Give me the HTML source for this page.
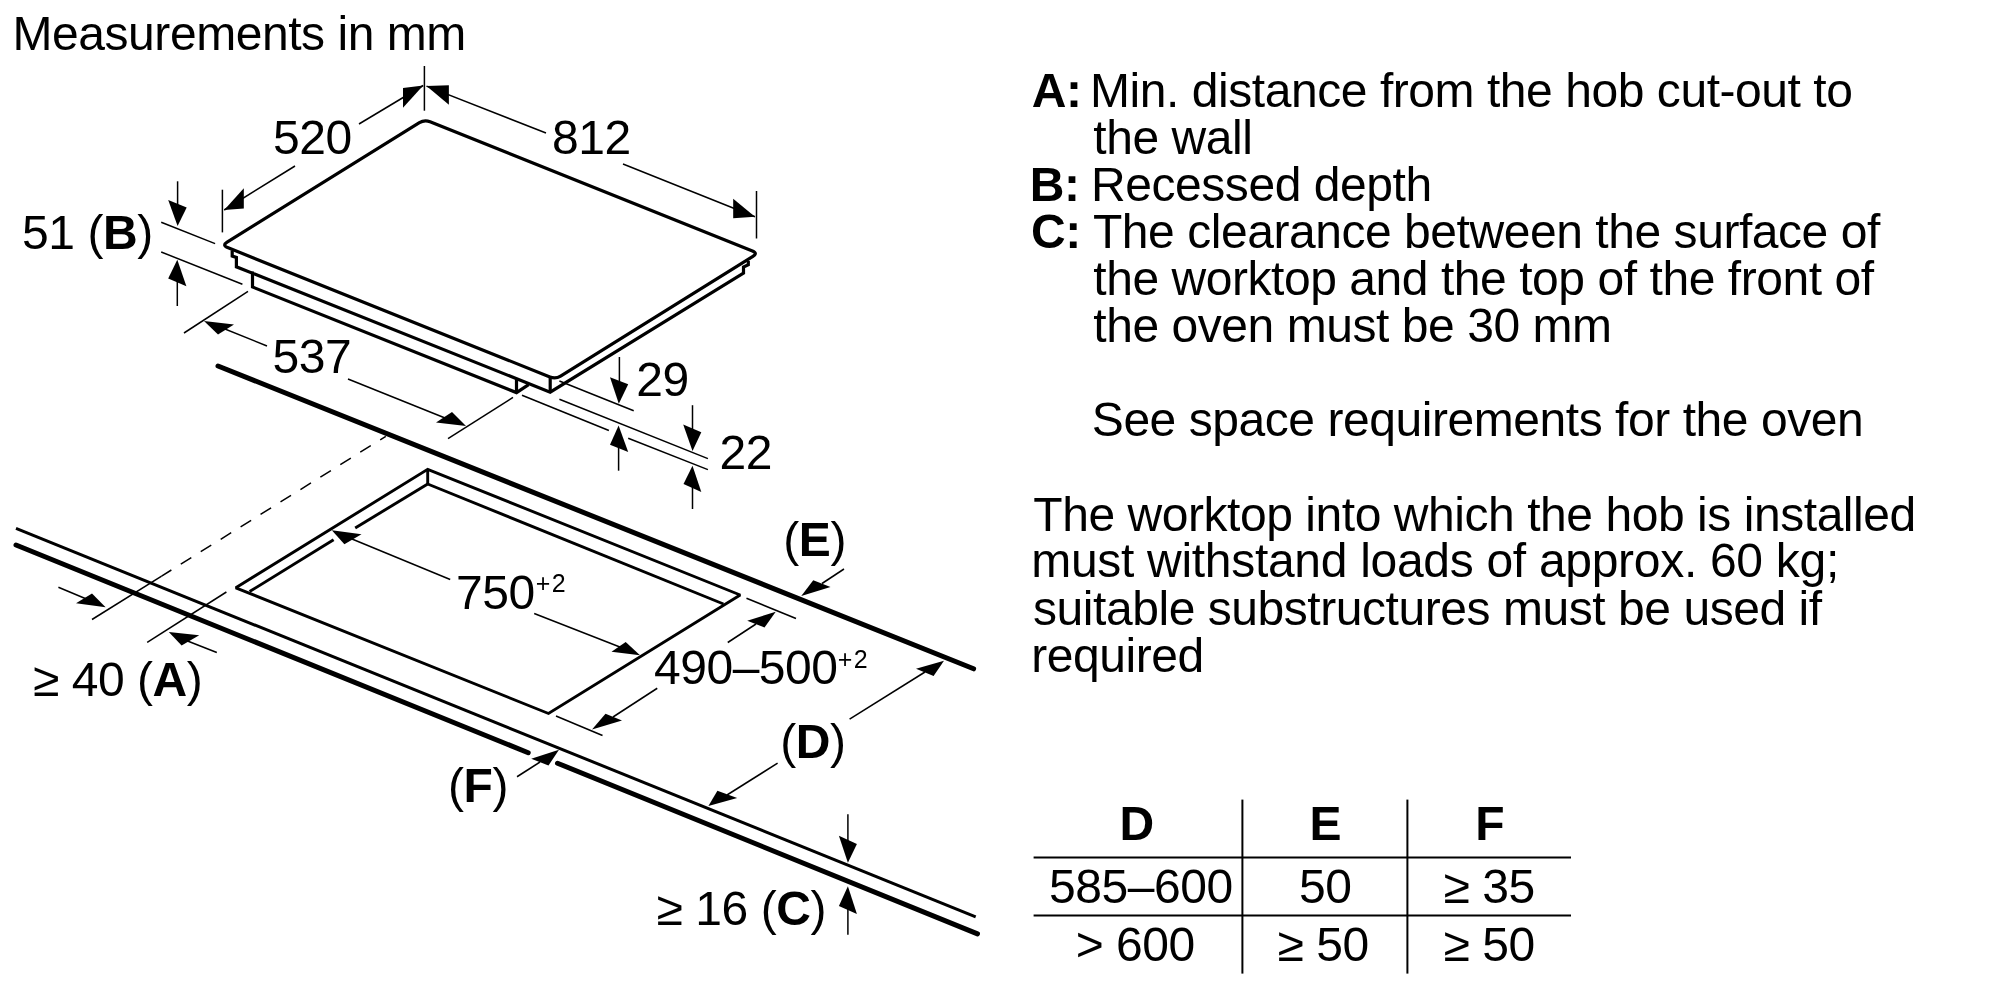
<!DOCTYPE html>
<html><head><meta charset="utf-8"><style>
html,body{margin:0;padding:0;background:#fff;}
svg{display:block;will-change:transform;}
text{font-family:"Liberation Sans",sans-serif;fill:#000;}
</style></head><body>
<svg width="2000" height="1000" viewBox="0 0 2000 1000">
<rect width="2000" height="1000" fill="#fff"/>
<g stroke="#000" fill="none">
<path d="M430.07,121.73 L752.43,250.97 Q758,253.2 752.91,256.37 L560.59,376.03 Q555.5,379.2 549.93,376.96 L227.57,247.54 Q222,245.3 227.10,242.13 L419.40,122.67 Q424.5,119.5 430.07,121.73 Z" fill="none" stroke-width="3.2"/>
<polyline points="232.2,250.5 232.2,256 236.4,257.5 236.4,266.8 550.2,392.2 743.5,273 743.5,267 748.3,264.8 748.3,261" fill="none" stroke-width="3.2" stroke-linejoin="miter"/>
<line x1="550.2" y1="378" x2="550.2" y2="392.6" stroke-width="3.2" stroke-linecap="butt" />
<polyline points="252.5,271.5 252.5,287 516.5,392.6 528.6,384.6" fill="none" stroke-width="3.2" stroke-linejoin="miter"/>
<line x1="516.5" y1="378.5" x2="516.5" y2="393" stroke-width="3.2" stroke-linecap="butt" />
<line x1="424.4" y1="66" x2="424.4" y2="110.7" stroke-width="1.5" stroke-linecap="butt" />
<line x1="222.4" y1="189.7" x2="222.4" y2="232.4" stroke-width="1.5" stroke-linecap="butt" />
<line x1="224.2" y1="210" x2="295" y2="166" stroke-width="1.5" stroke-linecap="butt" />
<line x1="359" y1="124" x2="423.2" y2="85.5" stroke-width="1.5" stroke-linecap="butt" />
<polygon points="423.2,85.5 403,88.1 403,107.7" stroke="none" fill="#000"/>
<polygon points="224.2,210 243.8,188.3 243.8,208.6" stroke="none" fill="#000"/>
<line x1="756.5" y1="191" x2="756.5" y2="238.5" stroke-width="1.5" stroke-linecap="butt" />
<line x1="426.5" y1="86.1" x2="546" y2="133" stroke-width="1.5" stroke-linecap="butt" />
<line x1="623" y1="164" x2="755" y2="216.7" stroke-width="1.5" stroke-linecap="butt" />
<polygon points="426.5,86.1 448.9,85.2 448.9,104.7" stroke="none" fill="#000"/>
<polygon points="755,216.7 733.2,198.7 733.2,218.2" stroke="none" fill="#000"/>
<line x1="161.2" y1="222.3" x2="215.1" y2="243.6" stroke-width="1.5" stroke-linecap="butt" />
<line x1="161.2" y1="252" x2="242.4" y2="284.2" stroke-width="1.5" stroke-linecap="butt" />
<line x1="177.6" y1="181.3" x2="177.6" y2="215" stroke-width="1.5" stroke-linecap="butt" />
<polygon points="177.6,226.1 168.2,199.9 186.7,207.5" stroke="none" fill="#000"/>
<line x1="177.3" y1="275" x2="177.3" y2="306" stroke-width="1.5" stroke-linecap="butt" />
<polygon points="177.3,259.7 168.2,278.6 186.4,286.3" stroke="none" fill="#000"/>
<line x1="184" y1="333" x2="248" y2="291.4" stroke-width="1.5" stroke-linecap="butt" />
<line x1="448" y1="438.6" x2="513" y2="397.4" stroke-width="1.5" stroke-linecap="butt" />
<line x1="215" y1="325" x2="267" y2="346" stroke-width="1.5" stroke-linecap="butt" />
<line x1="348" y1="379" x2="455" y2="422" stroke-width="1.5" stroke-linecap="butt" />
<polygon points="204,321 218,334.4 234,324.4" stroke="none" fill="#000"/>
<polygon points="466,426 436,422.4 452,412" stroke="none" fill="#000"/>
<line x1="559.4" y1="381" x2="633.7" y2="410.7" stroke-width="1.5" stroke-linecap="butt" />
<line x1="559.4" y1="399.2" x2="707.9" y2="458.6" stroke-width="1.5" stroke-linecap="butt" />
<line x1="522" y1="395.3" x2="608.9" y2="430.5" stroke-width="1.5" stroke-linecap="butt" />
<line x1="628.2" y1="438.2" x2="707.9" y2="469.6" stroke-width="1.5" stroke-linecap="butt" />
<line x1="619.4" y1="357" x2="619.4" y2="390" stroke-width="1.5" stroke-linecap="butt" />
<polygon points="618.8,403.8 610,377.15 628.2,384.3" stroke="none" fill="#000"/>
<line x1="618.6" y1="440" x2="618.6" y2="470.7" stroke-width="1.5" stroke-linecap="butt" />
<polygon points="618.6,425.6 610,444.8 628.2,452" stroke="none" fill="#000"/>
<line x1="692.5" y1="405.2" x2="692.5" y2="440" stroke-width="1.5" stroke-linecap="butt" />
<polygon points="692.5,450.9 683.2,424.5 701.3,432.2" stroke="none" fill="#000"/>
<line x1="692.5" y1="480" x2="692.5" y2="509" stroke-width="1.5" stroke-linecap="butt" />
<polygon points="692.5,465.7 683.5,484 701.3,492" stroke="none" fill="#000"/>
<line x1="218" y1="366" x2="973.6" y2="668.8" stroke-width="5.0" stroke-linecap="round" />
<line x1="16" y1="528.4" x2="975.7" y2="916.8" stroke-width="3" stroke-linecap="butt" />
<line x1="16" y1="545" x2="528.2" y2="752.75" stroke-width="5.0" stroke-linecap="round" />
<line x1="557.5" y1="763.25" x2="977.5" y2="933.9" stroke-width="5.0" stroke-linecap="round" />
<line x1="385.8" y1="436.3" x2="161.6" y2="576.1" stroke-width="1.5" stroke-linecap="butt" stroke-dasharray="12.4 11.1" stroke-dashoffset="5.8"/>
<line x1="161.6" y1="576.1" x2="92" y2="619.5" stroke-width="1.5" stroke-linecap="butt" />
<line x1="147.2" y1="642.4" x2="226.4" y2="592" stroke-width="1.5" stroke-linecap="butt" />
<line x1="58.4" y1="587.2" x2="90" y2="600.5" stroke-width="1.5" stroke-linecap="butt" />
<polygon points="105.6,607.2 76,603.2 92,593.6" stroke="none" fill="#000"/>
<line x1="185" y1="640" x2="216.8" y2="652.5" stroke-width="1.5" stroke-linecap="butt" />
<polygon points="168.8,632 181.6,645.6 199.2,635.2" stroke="none" fill="#000"/>
<polygon points="235.8,587.8 427.7,469.3 740.2,595 548.5,713.5" fill="none" stroke-width="2.9" stroke-linejoin="miter" stroke-miterlimit="1.5"/>
<line x1="249.6" y1="591.6" x2="333.6" y2="539.7" stroke-width="2.9" stroke-linecap="butt" />
<line x1="355.2" y1="528" x2="427.7" y2="484" stroke-width="2.9" stroke-linecap="butt" />
<line x1="427.7" y1="469.3" x2="427.7" y2="484" stroke-width="2.9" stroke-linecap="butt" />
<line x1="427.7" y1="484" x2="723.5" y2="604" stroke-width="2.9" stroke-linecap="butt" />
<line x1="352" y1="539" x2="450.2" y2="579.5" stroke-width="1.5" stroke-linecap="butt" />
<line x1="534.2" y1="613.5" x2="625" y2="649" stroke-width="1.5" stroke-linecap="butt" />
<polygon points="331.8,530.2 344.4,544.2 361.5,534.3" stroke="none" fill="#000"/>
<polygon points="640,655.2 611.5,651.7 625.7,642" stroke="none" fill="#000"/>
<line x1="556" y1="716" x2="602.5" y2="735.5" stroke-width="1.5" stroke-linecap="butt" />
<line x1="746.5" y1="598.25" x2="796" y2="618.5" stroke-width="1.5" stroke-linecap="butt" />
<line x1="613" y1="717" x2="657.25" y2="688.25" stroke-width="1.5" stroke-linecap="butt" />
<polygon points="592,729.5 605.5,713.75 622,720.5" stroke="none" fill="#000"/>
<line x1="756" y1="624" x2="727.75" y2="642.5" stroke-width="1.5" stroke-linecap="butt" />
<polygon points="775.75,611.75 747.25,620.75 764.5,627.5" stroke="none" fill="#000"/>
<line x1="822" y1="583.5" x2="844" y2="569" stroke-width="1.5" stroke-linecap="butt" />
<polygon points="801.25,596 813.25,580.25 830.5,587" stroke="none" fill="#000"/>
<line x1="925" y1="672" x2="849.6" y2="719.2" stroke-width="1.5" stroke-linecap="butt" />
<polygon points="944,660.8 916,668.8 933.6,676" stroke="none" fill="#000"/>
<line x1="777.6" y1="763.2" x2="727" y2="795" stroke-width="1.5" stroke-linecap="butt" />
<polygon points="708.4,806.1 717.4,790.8 737.2,798" stroke="none" fill="#000"/>
<line x1="540" y1="762" x2="517" y2="776.75" stroke-width="1.5" stroke-linecap="butt" />
<polygon points="559,749.75 531.25,758.75 548.5,765.5" stroke="none" fill="#000"/>
<line x1="847.9" y1="814.2" x2="847.9" y2="850" stroke-width="1.5" stroke-linecap="butt" />
<polygon points="847.9,862.8 838.9,835.8 856.9,843.9" stroke="none" fill="#000"/>
<line x1="847.9" y1="900" x2="847.9" y2="934.8" stroke-width="1.5" stroke-linecap="butt" />
<polygon points="847.9,886.2 838.9,906 856.9,914.1" stroke="none" fill="#000"/>
<line x1="1242.4" y1="799.6" x2="1242.4" y2="973.6" stroke-width="2" stroke-linecap="butt" />
<line x1="1407.4" y1="799.6" x2="1407.4" y2="973.6" stroke-width="2" stroke-linecap="butt" />
<line x1="1033.6" y1="857.6" x2="1571" y2="857.6" stroke-width="2" stroke-linecap="butt" />
<line x1="1033.6" y1="915.6" x2="1571" y2="915.6" stroke-width="2" stroke-linecap="butt" />
</g>
<g>
<text x="12.56" y="49.9" font-size="48" letter-spacing="-0.45"><tspan>Measurements in mm</tspan></text>
<text x="273.08" y="154.0" font-size="48" letter-spacing="-0.45"><tspan>520</tspan></text>
<text x="551.91" y="154.0" font-size="48" letter-spacing="-0.45"><tspan>812</tspan></text>
<text x="22.08" y="249.0" font-size="48" letter-spacing="-0.45"><tspan>51 (</tspan><tspan font-weight="bold">B</tspan><tspan>)</tspan></text>
<text x="272.48" y="373.0" font-size="48" letter-spacing="-0.45"><tspan>537</tspan></text>
<text x="636.29" y="395.8" font-size="48" letter-spacing="-0.45"><tspan>29</tspan></text>
<text x="719.59" y="468.6" font-size="48" letter-spacing="-0.45"><tspan>22</tspan></text>
<text x="783.27" y="556.25" font-size="48" letter-spacing="-0.45"><tspan>(</tspan><tspan font-weight="bold">E</tspan><tspan>)</tspan></text>
<text x="456.04" y="609.0" font-size="48" letter-spacing="-0.45"><tspan>750</tspan></text>
<text x="535.78" y="592.0" font-size="25" letter-spacing="1.5"><tspan>+2</tspan></text>
<text x="653.90" y="684.0" font-size="48" letter-spacing="-0.45"><tspan>490–500</tspan></text>
<text x="837.78" y="668.0" font-size="25" letter-spacing="1.5"><tspan>+2</tspan></text>
<text x="32.88" y="696.0" font-size="48" letter-spacing="-0.45"><tspan>≥ 40 (</tspan><tspan font-weight="bold">A</tspan><tspan>)</tspan></text>
<text x="780.22" y="757.6" font-size="48" letter-spacing="-0.45"><tspan>(</tspan><tspan font-weight="bold">D</tspan><tspan>)</tspan></text>
<text x="448.02" y="802.25" font-size="48" letter-spacing="-0.45"><tspan>(</tspan><tspan font-weight="bold">F</tspan><tspan>)</tspan></text>
<text x="656.48" y="924.9" font-size="48" letter-spacing="-0.45"><tspan>≥ 16 (</tspan><tspan font-weight="bold">C</tspan><tspan>)</tspan></text>
<text x="1031.80" y="107" font-size="48" letter-spacing="-0.45"><tspan font-weight="bold">A:</tspan></text>
<text x="1090.06" y="107" font-size="48" letter-spacing="-0.45"><tspan>Min. distance from the hob cut-out to</tspan></text>
<text x="1093.27" y="154" font-size="48" letter-spacing="-0.45"><tspan>the wall</tspan></text>
<text x="1029.79" y="201" font-size="48" letter-spacing="-0.45"><tspan font-weight="bold">B:</tspan></text>
<text x="1091.06" y="201" font-size="48" letter-spacing="-0.45"><tspan>Recessed depth</tspan></text>
<text x="1031.03" y="248" font-size="48" letter-spacing="-0.45"><tspan font-weight="bold">C:</tspan></text>
<text x="1092.92" y="248" font-size="48" letter-spacing="-0.45"><tspan>The clearance between the surface of</tspan></text>
<text x="1093.27" y="295" font-size="48" letter-spacing="-0.45"><tspan>the worktop and the top of the front of</tspan></text>
<text x="1093.27" y="342" font-size="48" letter-spacing="-0.45"><tspan>the oven must be 30 mm</tspan></text>
<text x="1091.82" y="436" font-size="48" letter-spacing="-0.45"><tspan>See space requirements for the oven</tspan></text>
<text x="1033.32" y="530.5" font-size="48" letter-spacing="-0.45"><tspan>The worktop into which the hob is installed</tspan></text>
<text x="1031.21" y="577.3" font-size="48" letter-spacing="-0.3"><tspan>must withstand loads of approx. 60 kg;</tspan></text>
<text x="1033.06" y="624.5" font-size="48" letter-spacing="-0.45"><tspan>suitable substructures must be used if</tspan></text>
<text x="1031.21" y="671.5" font-size="48" letter-spacing="-0.45"><tspan>required</tspan></text>
<text x="1136.50" y="840" font-size="48" letter-spacing="-0.45" text-anchor="middle"><tspan font-weight="bold">D</tspan></text>
<text x="1325.40" y="840" font-size="48" letter-spacing="-0.45" text-anchor="middle"><tspan font-weight="bold">E</tspan></text>
<text x="1489.80" y="840" font-size="48" letter-spacing="-0.45" text-anchor="middle"><tspan font-weight="bold">F</tspan></text>
<text x="1049.08" y="903" font-size="48" letter-spacing="-0.45"><tspan>585–600</tspan></text>
<text x="1299.08" y="903" font-size="48" letter-spacing="-0.45"><tspan>50</tspan></text>
<text x="1443.48" y="903" font-size="48" letter-spacing="-0.45"><tspan>≥ 35</tspan></text>
<text x="1075.63" y="961" font-size="48" letter-spacing="-0.45"><tspan>&gt; 600</tspan></text>
<text x="1277.48" y="961" font-size="48" letter-spacing="-0.45"><tspan>≥ 50</tspan></text>
<text x="1443.48" y="961" font-size="48" letter-spacing="-0.45"><tspan>≥ 50</tspan></text>
</g>
</svg>
</body></html>
